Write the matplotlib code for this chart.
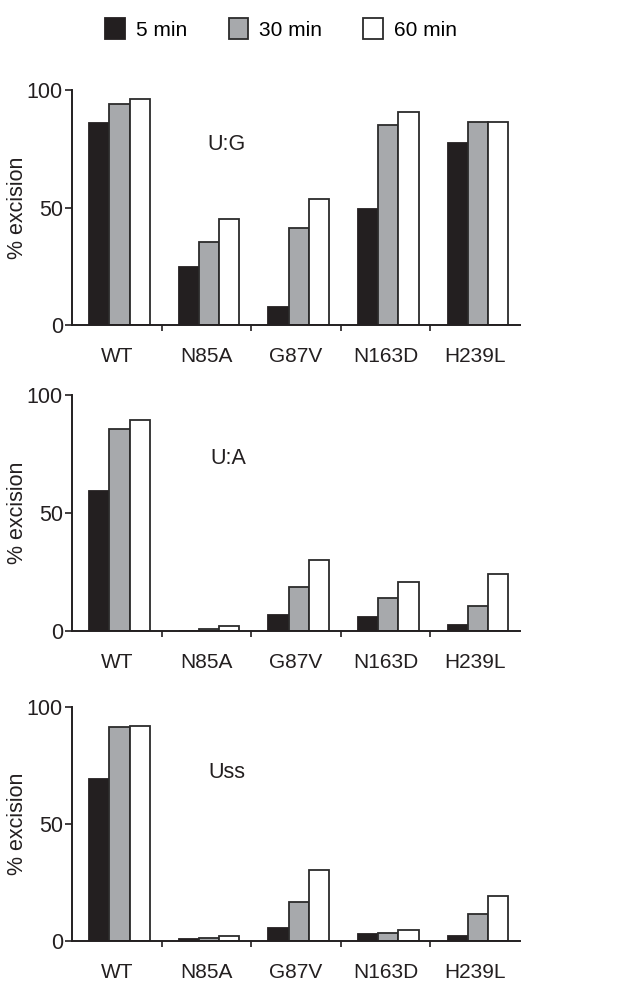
import matplotlib
matplotlib.use("Agg")
import matplotlib.pyplot as plt
import numpy as np
from matplotlib.patches import Patch

plt.rcParams['font.family'] = ['Liberation Sans', 'DejaVu Sans']

categories = ["WT", "N85A", "G87V", "N163D", "H239L"]
series_names = ["5 min", "30 min", "60 min"]
panel_labels = ["U:G", "U:A", "Uss"]

ug_5 = [85.8, 24.8, 7.7, 49.5, 77.6]
ug_30 = [94.2, 35.2, 41.1, 85.2, 86.2]
ug_60 = [96.3, 45.1, 53.8, 90.5, 86.2]

ua_5 = [59.4, 0.0, 6.6, 6.1, 2.5]
ua_30 = [85.4, 0.8, 18.8, 14.1, 10.7]
ua_60 = [89.4, 2.1, 30.1, 20.6, 24.0]

uss_5 = [69.1, 0.7, 5.4, 3.0, 2.1]
uss_30 = [91.2, 1.1, 16.5, 3.4, 11.5]
uss_60 = [91.8, 2.0, 30.3, 4.6, 19.3]

panels = [(ug_5, ug_30, ug_60), (ua_5, ua_30, ua_60), (uss_5, uss_30, uss_60)]

ink = "#231f20"
colors = [ink, "#a7a9ac", "#ffffff"]
edges = [ink, "#2b2b2b", "#2b2b2b"]

W, H = 624, 982
fig = plt.figure(figsize=(W / 100, H / 100), dpi=100)

# axes boxes in pixels: (left, top(y=100), bottom(y=0))
boxes = [(72, 90, 325), (72, 395, 631), (72, 706.7, 941)]
right = 520
ann_pos = [(1.22, 77), (1.25, 73), (1.23, 72)]

x = np.arange(len(categories))
bw = 0.225
for i, ((l, t, b), data) in enumerate(zip(boxes, panels)):
    ax = fig.add_axes([l / W, 1 - b / H, (right - l) / W, (b - t) / H])
    for j, vals in enumerate(data):
        ax.bar(x + (j - 1) * bw + 0.03, vals, width=bw, color=colors[j],
               edgecolor=edges[j], linewidth=1.3, zorder=2)
    ax.set_xlim(-0.5, 4.5)
    ax.set_ylim(0, 100)
    ax.set_yticks([0, 50, 100])
    ax.set_xticks(x)
    ax.set_xticklabels(categories, fontsize=15)
    ax.set_xticks(x[:-1] + 0.5, minor=True)
    ax.tick_params(axis='x', which='major', length=0, pad=15.5, colors=ink)
    ax.tick_params(axis='x', which='minor', length=4, width=1.2, direction='out', colors=ink)
    ax.tick_params(axis='y', length=5, width=1.2, pad=1.5, labelsize=15.5, colors=ink)
    for s in ['top', 'right']:
        ax.spines[s].set_visible(False)
    for s in ['left', 'bottom']:
        ax.spines[s].set_color(ink)
        ax.spines[s].set_linewidth(1.4)
    ax.set_ylabel("% excision", fontsize=15.5, color=ink)
    ax.yaxis.set_label_coords(-0.098, 0.5)
    ax.text(ann_pos[i][0], ann_pos[i][1], panel_labels[i], fontsize=15.5,
            ha='center', va='center', color=ink)

handles = [Patch(facecolor=colors[k], edgecolor=edges[k], linewidth=1.3) for k in range(3)]
fig.legend(handles, series_names, loc='center', bbox_to_anchor=(281 / W, 1 - 29 / H),
           ncol=3, frameon=False, fontsize=15, handlelength=0.95, handleheight=1.15,
           handletextpad=0.5, columnspacing=2.0)

fig.savefig("out.png", dpi=100)
